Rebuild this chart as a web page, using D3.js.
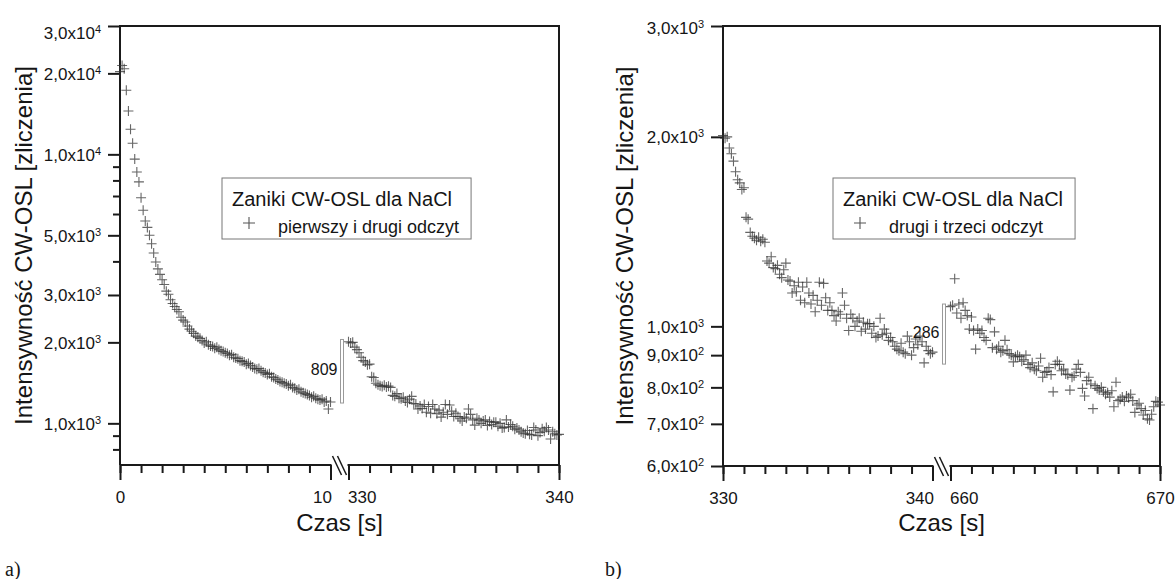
<!DOCTYPE html>
<html>
<head>
<meta charset="utf-8">
<script src="https://cdnjs.cloudflare.com/ajax/libs/d3/7.8.5/d3.min.js"></script>
<style>
  body { margin: 0; background: #fff; }
  text { font-family: "Liberation Sans", Arial, sans-serif; fill: #151515; }
</style>
</head>
<body>
<div id="chart-area"></div>
<script>
// [czas s, zliczenia]
var firstRead = [
  [0.0,20300],[0.1,21400],[0.2,20800],[0.3,17300],[0.4,14500],[0.5,12400],[0.6,11000],[0.7,9600],[0.8,8600],[0.9,7900],
  [1.0,6900],[1.1,6200],[1.2,5650],[1.3,5350],[1.4,5000],[1.5,4650],[1.6,4300],[1.7,3980],[1.8,3750],[1.9,3580],
  [2.0,3420],[2.1,3280],[2.2,3100],[2.3,3020],[2.4,2880],[2.5,2790],[2.6,2720],[2.7,2650],[2.8,2600],[2.9,2480],
  [3.0,2420],[3.1,2380],[3.2,2300],[3.3,2240],[3.4,2200],[3.5,2160],[3.6,2110],[3.7,2090],[3.8,2070],[3.9,2030],
  [4.0,1990],[4.1,2010],[4.2,1960],[4.3,1940],[4.4,1930],[4.5,1900],[4.6,1920],[4.7,1880],[4.8,1860],[4.9,1850],
  [5.0,1830],[5.1,1820],[5.2,1790],[5.3,1800],[5.4,1760],[5.5,1750],[5.6,1740],[5.7,1710],[5.8,1700],[5.9,1690],
  [6.0,1660],[6.1,1670],[6.2,1640],[6.3,1620],[6.4,1600],[6.5,1590],[6.6,1600],[6.7,1570],[6.8,1550],[6.9,1540],
  [7.0,1520],[7.1,1530],[7.2,1490],[7.3,1480],[7.4,1460],[7.5,1450],[7.6,1430],[7.7,1420],[7.8,1410],[7.9,1400],
  [8.0,1380],[8.1,1390],[8.2,1360],[8.3,1350],[8.4,1330],[8.5,1340],[8.6,1310],[8.7,1300],[8.8,1290],[8.9,1280],
  [9.0,1270],[9.1,1250],[9.2,1260],[9.3,1240],[9.4,1230],[9.5,1220],[9.6,1230],[9.7,1200],[9.8,1210],[9.9,1130],[10.0,1200]
];

var secondRead = [
  [330.0,2010],[330.1,1990],[330.2,2000],[330.3,1920],[330.4,1880],[330.5,1830],[330.6,1760],[330.7,1710],[330.8,1690],[330.9,1650],
  [331.0,1660],[331.1,1490],[331.2,1480],[331.3,1410],[331.4,1390],[331.5,1380],[331.6,1370],[331.7,1385],[331.8,1365],[331.9,1375],
  [332.0,1360],[332.1,1270],[332.2,1260],[332.3,1290],[332.4,1240],[332.5,1235],[332.6,1250],[332.7,1210],[332.8,1195],[332.9,1230],
  [333.0,1260],[333.1,1185],[333.2,1180],[333.3,1130],[333.4,1160],[333.5,1135],[333.6,1175],[333.7,1100],[333.8,1155],[333.9,1090],
  [334.0,1175],[334.1,1130],[334.2,1085],[334.3,1120],[334.4,1055],[334.5,1100],[334.6,1175],[334.7,1080],[334.8,1170],[334.9,1110],
  [335.0,1060],[335.1,1090],[335.2,1060],[335.3,1040],[335.4,1020],[335.5,1055],[335.6,1045],[335.7,1130],[335.8,1080],[335.9,1030],
  [336.0,985],[336.1,1045],[336.2,1030],[336.3,1000],[336.4,1020],[336.5,1030],[336.6,982],[336.7,1015],[336.8,990],[336.9,1010],
  [337.0,1010],[337.1,975],[337.2,1000],[337.3,960],[337.4,965],[337.5,1030],[337.6,970],[337.7,990],[337.8,975],[337.9,950],
  [338.0,960],[338.1,945],[338.2,930],[338.3,920],[338.4,915],[338.5,940],[338.6,910],[338.7,905],[338.8,965],[338.9,945],
  [339.0,900],[339.1,925],[339.2,955],[339.3,935],[339.4,965],[339.5,945],[339.6,875],[339.7,930],[339.8,915],[339.9,905],[340.0,910]
];

var thirdRead = [
  [660.0,1075],[660.1,1080],[660.2,1190],[660.3,1050],[660.4,1085],[660.5,1030],[660.6,1090],[660.7,1060],[660.8,1040],[660.9,990],
  [661.0,1035],[661.1,985],[661.2,920],[661.3,990],[661.4,975],[661.5,985],[661.6,960],[661.7,950],[661.8,1030],[661.9,1025],
  [662.0,925],[662.1,980],[662.2,920],[662.3,930],[662.4,910],[662.5,915],[662.6,950],[662.7,918],[662.8,905],[662.9,900],
  [663.0,878],[663.1,895],[663.2,900],[663.3,895],[663.4,880],[663.5,885],[663.6,900],[663.7,870],[663.8,860],[663.9,875],
  [664.0,855],[664.1,850],[664.2,865],[664.3,890],[664.4,830],[664.5,845],[664.6,848],[664.7,860],[664.8,838],[664.9,787],
  [665.0,870],[665.1,880],[665.2,870],[665.3,850],[665.4,855],[665.5,840],[665.6,838],[665.7,792],[665.8,830],[665.9,835],
  [666.0,855],[666.1,870],[666.2,845],[666.3,797],[666.4,775],[666.5,820],[666.6,830],[666.7,810],[666.8,740],[666.9,805],
  [667.0,797],[667.1,792],[667.2,800],[667.3,787],[667.4,780],[667.5,784],[667.6,772],[667.7,790],[667.8,745],[667.9,815],
  [668.0,762],[668.1,766],[668.2,772],[668.3,760],[668.4,775],[668.5,770],[668.6,780],[668.7,762],[668.8,730],[668.9,750],
  [669.0,755],[669.1,740],[669.2,723],[669.3,735],[669.4,713],[669.5,710],[669.6,725],[669.7,745],[669.8,760],[669.9,758],[670.0,750]
];

// y ticks
var yMajorA = [1000, 2000, 3000, 5000, 10000, 20000, 30000];
var yMinorA = [800, 900, 4000, 6000, 7000, 8000, 9000];
var yMajorB = [600, 700, 800, 900, 1000, 2000, 3000];
var yMinorB = [];

// x tick labels (the two ends of each segment)
var xLabelsA = [0, 10, 330, 340];
var xLabelsB = [330, 340, 660, 670];

// jump between readings: [end of earlier read, start of later read], label
var jumpA = [1190, 2050], jumpLabelA = '809';
var jumpB = [871, 1085], jumpLabelB = '286';

var legendTitle = 'Zaniki CW-OSL dla NaCl';
var yTitle = 'Intensywno\u015b\u0107 CW-OSL [zliczenia]';
var xTitle = 'Czas [s]';

var svg = d3.select('#chart-area').append('svg')
  .attr('width', 1176)
  .attr('height', 579)
  .style('background', '#fff');

var panels = [
  {tag: 'a)', tagX: 5, left: 120, width: 439, top: 26, bottom: 465, yTitleX: 32, topShift: 7,
   segs: [[0, 10], [330, 340]], yDomain: [700, 30000], yMajor: yMajorA, yMinor: yMinorA,
   xLabels: xLabelsA, series: [firstRead, secondRead], legendLabel: 'pierwszy i drugi odczyt',
   legendDx: 102, jump: jumpA, jumpLabel: jumpLabelA, yTick: 12},
  {tag: 'b)', tagX: 605, left: 723, width: 437, top: 26, bottom: 466, yTitleX: 633, topShift: 2,
   segs: [[330, 340], [660, 670]], yDomain: [600, 3000], yMajor: yMajorB, yMinor: yMinorB,
   xLabels: xLabelsB, series: [secondRead, thirdRead], legendLabel: 'drugi i trzeci odczyt',
   legendDx: 110, jump: jumpB, jumpLabel: jumpLabelB, yTick: 12}
];

var gap = 18;
var ink = '#1a1a1a';

panels.forEach(function(p) {
  var right = p.left + p.width;
  var seg = (p.width - gap) / 2;
  var xb1 = p.left + seg, xb2 = p.left + seg + gap;

  var x = d3.scaleLinear()
    .domain([p.segs[0][0], p.segs[0][1], p.segs[1][0], p.segs[1][1]])
    .range([p.left, xb1, xb2, right]);

  var y = d3.scaleLog()
    .domain(p.yDomain)
    .range([p.bottom, p.top]);

  var g = svg.append('g');

  // y axis ticks
  var yMaj = g.append('g')
    .attr('transform', 'translate(' + p.left + ',0)')
    .call(d3.axisLeft(y).tickValues(p.yMajor).tickSize(p.yTick).tickPadding(7).tickFormat(''));
  yMaj.select('.domain').remove();
  yMaj.selectAll('.tick line').attr('stroke', ink).attr('stroke-width', 2);
  yMaj.selectAll('.tick text').each(function(d) {
    var e = Math.floor(Math.log10(d) + 1e-9);
    var m = (d / Math.pow(10, e)).toFixed(1).replace('.', ',');
    var t = d3.select(this)
      .attr('font-family', null).attr('font-size', 17).attr('dy', '0.34em')
      .attr('y', d === p.yDomain[1] ? p.topShift : 0);
    t.append('tspan').text(m + 'x10');
    t.append('tspan').attr('dy', -6).attr('font-size', 11).text(e);
  });

  if (p.yMinor.length) {
    var yMin = g.append('g')
      .attr('transform', 'translate(' + p.left + ',0)')
      .call(d3.axisLeft(y).tickValues(p.yMinor).tickSize(7).tickFormat(''));
    yMin.select('.domain').remove();
    yMin.selectAll('.tick line').attr('stroke', ink).attr('stroke-width', 2);
  }

  // x axis ticks, one per second
  var secs = d3.range(p.segs[0][0], p.segs[0][1] + 1).concat(d3.range(p.segs[1][0], p.segs[1][1] + 1));
  var xMin = g.append('g')
    .attr('transform', 'translate(0,' + p.bottom + ')')
    .call(d3.axisBottom(x).tickValues(secs).tickSize(8).tickFormat(''));
  xMin.select('.domain').remove();
  xMin.selectAll('.tick line').attr('stroke', ink).attr('stroke-width', 2);

  var xMaj = g.append('g')
    .attr('transform', 'translate(0,' + p.bottom + ')')
    .call(d3.axisBottom(x).tickValues(p.xLabels).tickSize(15));
  xMaj.select('.domain').remove();
  xMaj.selectAll('.tick line').attr('stroke', ink).attr('stroke-width', 2);
  xMaj.selectAll('.tick text')
    .attr('font-family', null).attr('font-size', 17)
    .attr('y', 38).attr('dy', 0)
    .attr('text-anchor', function(d, i) { return i === 1 ? 'end' : (i === 2 ? 'start' : 'middle'); })
    .attr('x', function(d, i) { return i === 1 ? 1 : (i === 2 ? -1 : 0); });

  // frame with broken bottom axis
  var frame = g.append('g').attr('stroke', ink).attr('stroke-width', 2).attr('fill', 'none');
  frame.append('path').attr('d', 'M' + p.left + ',' + p.bottom + 'V' + p.top + 'H' + right + 'V' + p.bottom);
  frame.append('line').attr('x1', p.left).attr('x2', xb1 + 1).attr('y1', p.bottom).attr('y2', p.bottom);
  frame.append('line').attr('x1', xb2 - 1).attr('x2', right).attr('y1', p.bottom).attr('y2', p.bottom);
  [2, 7].forEach(function(o) {
    frame.append('line')
      .attr('stroke-width', 1.5)
      .attr('x1', xb1 + o).attr('y1', p.bottom - 9)
      .attr('x2', xb1 + o + 9).attr('y2', p.bottom + 10);
  });

  // points
  p.series.forEach(function(s) {
    g.append('g').selectAll('path')
      .data(s)
      .enter()
      .append('path')
        .attr('transform', function(d) { return 'translate(' + x(d[0]) + ',' + y(d[1]) + ')'; })
        .attr('d', 'M-5,0H5M0,-5V5')
        .attr('stroke', '#333')
        .attr('stroke-width', 1.1)
        .attr('opacity', 0.75);
  });

  // jump bar + label
  var bx = xb1 + 10;
  g.append('rect')
    .attr('x', bx).attr('width', 3)
    .attr('y', y(p.jump[1])).attr('height', y(p.jump[0]) - y(p.jump[1]))
    .attr('fill', '#fff').attr('stroke', '#9a9a9a').attr('stroke-width', 1);
  g.append('text')
    .attr('x', bx - 3)
    .attr('y', (y(p.jump[0]) + y(p.jump[1])) / 2 - 2)
    .attr('dy', '0.35em')
    .attr('text-anchor', 'end')
    .attr('font-size', 16)
    .text(p.jumpLabel);

  // legend
  var lx = p.left + p.legendDx, ly = 178;
  var lg = g.append('g');
  var box = lg.append('rect')
    .attr('x', lx).attr('y', ly).attr('height', 61)
    .attr('fill', '#fff').attr('stroke', '#777').attr('stroke-width', 1);
  var t1 = lg.append('text').attr('x', lx + 10).attr('y', ly + 28).attr('font-size', 20).text(legendTitle);
  lg.append('path')
    .attr('transform', 'translate(' + (lx + 27) + ',' + (ly + 45) + ')')
    .attr('d', 'M-6,0H6M0,-6V6')
    .attr('stroke', '#555').attr('stroke-width', 1.1);
  var t2 = lg.append('text').attr('x', lx + 56).attr('y', ly + 55).attr('font-size', 18).text(p.legendLabel);
  var w = Math.max(10 + t1.node().getComputedTextLength(), 56 + t2.node().getComputedTextLength()) + 12;
  box.attr('width', w);

  // titles
  g.append('text')
    .attr('x', (p.left + right) / 2).attr('y', 531)
    .attr('text-anchor', 'middle').attr('font-size', 24)
    .text(xTitle);
  g.append('text')
    .attr('transform', 'translate(' + p.yTitleX + ',' + ((p.top + p.bottom) / 2) + ') rotate(-90)')
    .attr('text-anchor', 'middle').attr('font-size', 24)
    .text(yTitle);

  g.append('text')
    .attr('x', p.tagX).attr('y', 576)
    .style('font-family', '"Liberation Serif", "Times New Roman", serif')
    .attr('font-size', 20)
    .text(p.tag);
});
</script>
</body>
</html>
